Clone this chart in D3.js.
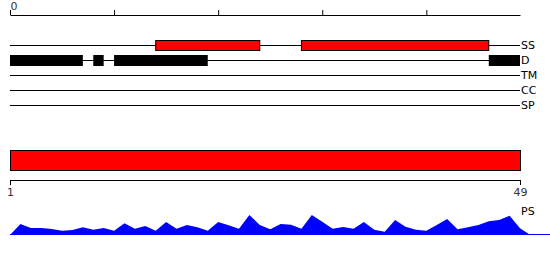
<!DOCTYPE html>
<html><head><meta charset="utf-8">
<script src="https://cdn.jsdelivr.net/npm/d3@7"></script>
<style>body{margin:0;background:#fff}svg{display:block}</style>
</head><body>
<svg id="c" width="550" height="260"></svg>
<script>
const seqLength = 49;
const topTicks = [0, 10, 20, 30, 40];
const trackNames = ["SS", "D", "TM", "CC", "SP"];
const ssSegments = [[14, 24], [28, 46]];
const disorderSegments = [[0, 7], [8, 9], [10, 19], [46, 49]];
const fullSegment = [[0, 49]];
const bottomTicks = [1, 49];
const psValues = [0, 11, 7, 7, 6, 4.3, 5, 7.7, 5.3, 7, 4.3, 11.7, 6.3, 9, 4.3, 13, 6.3, 10, 7.7, 4.3,
  13, 9.7, 6.3, 20, 10, 5.7, 11, 10.3, 6.3, 20, 13.3, 6.3, 8, 6.3, 13, 5.3, 3.3, 15, 8.3, 5.3,
  4.3, 10, 16, 5.7, 7.7, 10, 13.7, 15, 19.3, 6.7, 0];

const svg = d3.select("#c");
const x = d3.scaleLinear().domain([0, seqLength]).range([10, 520]);

// top axis
const topAxis = d3.axisTop(x).tickValues(topTicks).tickSize(5).tickSizeOuter(0)
  .tickFormat(d => d === 0 ? "0" : "");
const ta = svg.append("g").attr("transform", "translate(0,15)").call(topAxis);
ta.select(".domain").attr("stroke", "#000");
ta.selectAll(".tick line").attr("stroke", "#000");
ta.selectAll(".tick text").attr("font-family", "DejaVu Sans").attr("font-size", 11)
  .attr("fill", "#333").attr("text-anchor", "start").attr("dy", "0.25em");

// tracks
const yTrack = d3.scalePoint().domain(trackNames).range([45, 105]);
svg.append("g").selectAll("line").data(trackNames).join("line")
  .attr("x1", x(0)).attr("x2", x(seqLength))
  .attr("y1", d => yTrack(d) + 0.5).attr("y2", d => yTrack(d) + 0.5)
  .attr("stroke", "#000").attr("stroke-width", 1);
svg.append("g").selectAll("text").data(trackNames).join("text")
  .attr("x", x(seqLength) + 1).attr("y", d => yTrack(d) + 4)
  .attr("font-family", "DejaVu Sans").attr("font-size", 11).attr("fill", "#000")
  .text(d => d);

svg.append("g").selectAll("rect").data(ssSegments).join("rect")
  .attr("x", d => x(d[0])).attr("width", d => x(d[1]) - x(d[0]))
  .attr("y", yTrack("SS") - 4.5).attr("height", 10)
  .attr("fill", "#ff0000").attr("stroke", "#000").attr("stroke-width", 1);
svg.append("g").selectAll("rect").data(disorderSegments).join("rect")
  .attr("x", d => x(d[0])).attr("width", d => x(d[1]) - x(d[0]))
  .attr("y", yTrack("D") - 5).attr("height", 11)
  .attr("fill", "#000");

// big red bar
svg.append("g").selectAll("rect").data(fullSegment).join("rect")
  .attr("x", d => x(d[0]) + 0.5).attr("width", d => x(d[1]) - x(d[0]))
  .attr("y", 150.5).attr("height", 20)
  .attr("fill", "#ff0000").attr("stroke", "#000").attr("stroke-width", 1);

// bottom axis
const xb = d3.scaleLinear().domain([1, seqLength]).range([10, 520]);
const ba = svg.append("g").attr("transform", "translate(0,180)")
  .call(d3.axisBottom(xb).tickValues(bottomTicks).tickSize(5).tickSizeOuter(0));
ba.select(".domain").attr("stroke", "#000");
ba.selectAll(".tick line").attr("stroke", "#000");
ba.selectAll(".tick text").attr("font-family", "DejaVu Sans").attr("font-size", 11).attr("fill", "#333");

// PS area
const yPs = d3.scaleLinear().domain([0, 20]).range([235, 215]);
svg.append("path").datum(psValues)
  .attr("d", d3.area().x((d, i) => x(i)).y0(yPs(0)).y1(d => yPs(d)))
  .attr("fill", "#0000ff");
svg.append("line").attr("x1", x(0)).attr("x2", 550)
  .attr("y1", yPs(0) - 0.5).attr("y2", yPs(0) - 0.5).attr("stroke", "#0000ff");
svg.append("text").attr("x", x(seqLength) + 1).attr("y", 215)
  .attr("font-family", "DejaVu Sans").attr("font-size", 11).attr("fill", "#000").text("PS");
</script>
</body></html>
